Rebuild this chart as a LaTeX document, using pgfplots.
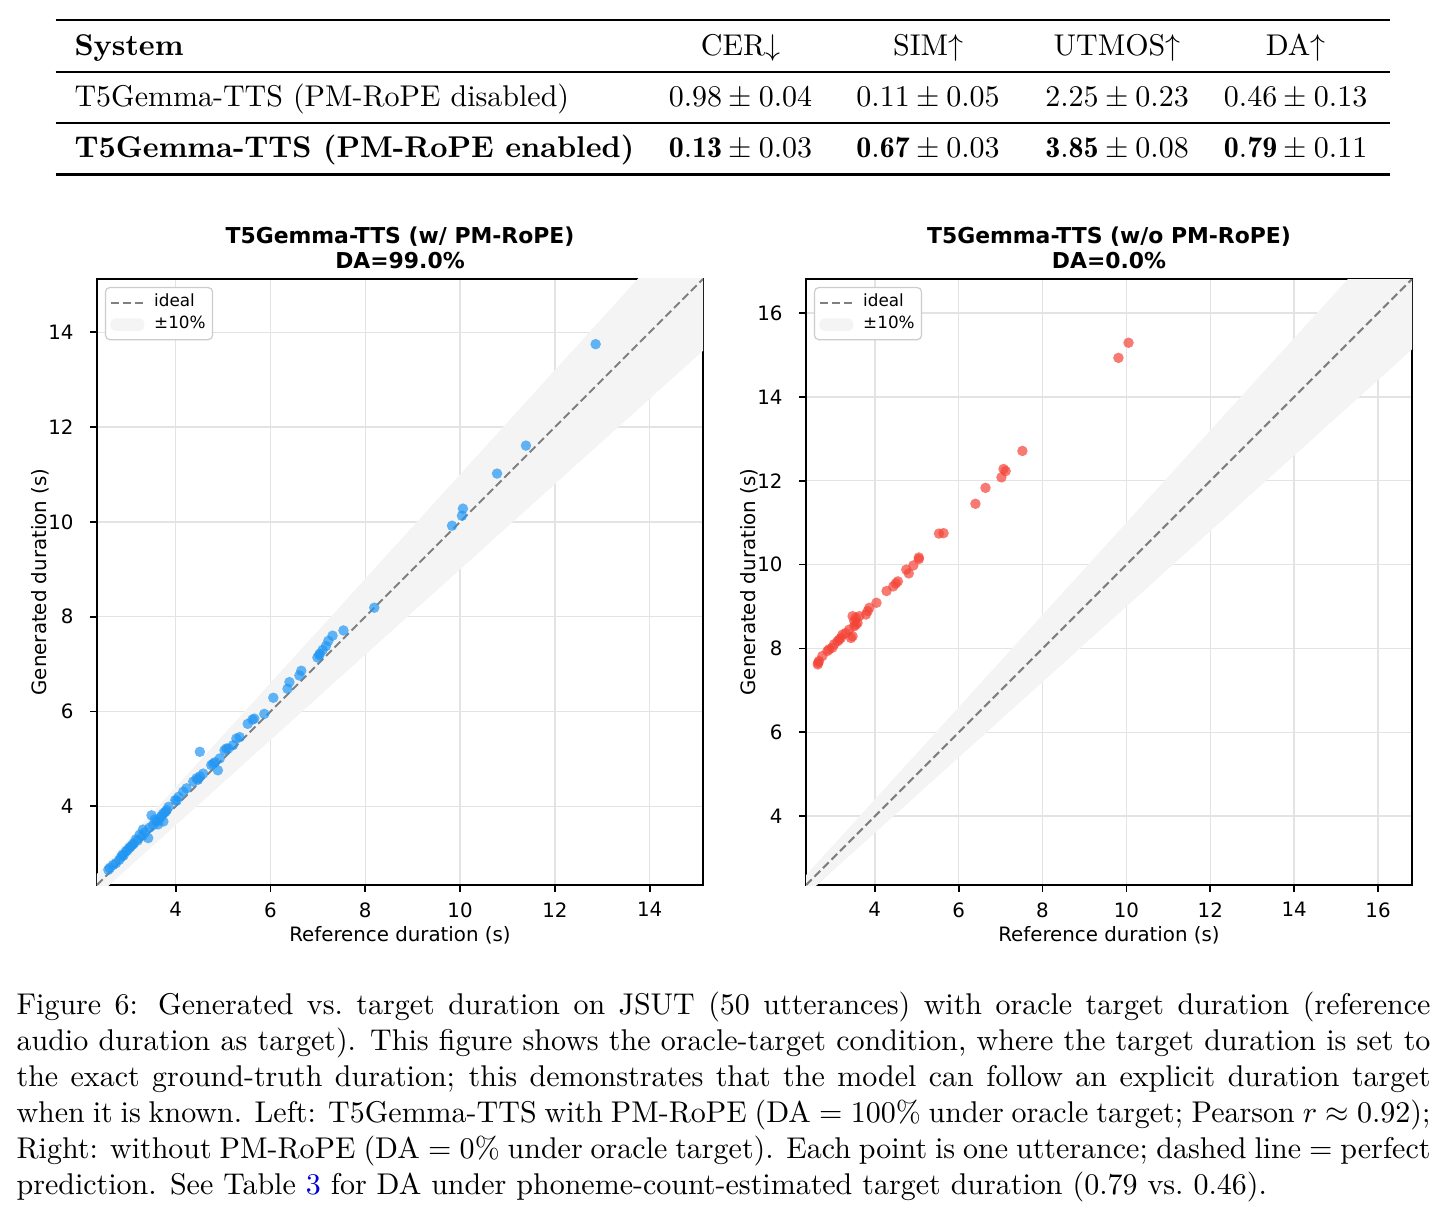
\documentclass[border=0pt]{standalone}
\usepackage{fontspec}
\usepackage{pgfplots}
\pgfplotsset{compat=1.18}
\usepackage{booktabs}
\usepackage{array}
\newfontfamily\djv{DejaVu Sans}
\definecolor{cblue}{HTML}{2196F3}
\definecolor{cred}{HTML}{F44336}
\definecolor{bandgray}{gray}{0.955}
\definecolor{linkblue}{rgb}{0,0,0.85}

\pgfplotstableread{
x y
12.86 13.75
11.39 11.61
10.78 11.02
10.06 10.28
10.04 10.13
9.83 9.92
8.19 8.19
7.54 7.71
7.31 7.60
7.22 7.49
7.17 7.38
7.10 7.30
7.04 7.22
6.99 7.14
7.03 7.19
6.65 6.86
6.61 6.76
6.40 6.62
6.36 6.48
6.06 6.29
5.87 5.95
5.66 5.85
5.62 5.83
5.52 5.74
5.35 5.46
5.28 5.43
5.21 5.29
5.07 5.22
5.03 5.18
5.11 5.22
4.93 5.01
4.79 4.90
4.75 4.87
4.89 4.76
4.83 4.93
4.51 5.15
4.58 4.69
4.51 4.63
4.44 4.59
4.37 4.52
4.47 4.56
4.23 4.38
4.16 4.31
4.06 4.20
3.99 4.13
4.02 4.12
3.85 3.99
3.81 3.92
3.74 3.85
3.67 3.75
3.60 3.68
3.74 3.68
3.49 3.81
3.56 3.72
3.63 3.62
3.70 3.80
3.78 3.88
3.52 3.60
3.45 3.55
3.42 3.33
3.31 3.51
3.35 3.45
3.24 3.40
3.30 3.38
3.16 3.30
3.20 3.28
3.09 3.19
3.12 3.22
3.02 3.12
3.05 3.15
2.95 3.05
2.98 3.07
2.88 2.98
2.90 2.96
2.81 2.87
2.85 2.93
2.74 2.80
2.68 2.76
2.61 2.70
2.58 2.66
}\withrope

\pgfplotstableread{
x y
10.05 15.29
9.81 14.93
7.52 12.71
7.07 12.28
7.12 12.23
7.02 12.08
6.64 11.83
6.40 11.45
5.53 10.74
5.64 10.75
5.05 10.17
5.05 10.13
4.92 9.98
4.75 9.88
4.81 9.79
4.55 9.60
4.50 9.55
4.44 9.48
4.28 9.37
4.04 9.09
3.87 8.97
3.83 8.89
3.79 8.81
3.63 8.77
3.55 8.73
3.51 8.65
3.59 8.61
3.55 8.57
3.47 8.77
3.51 8.53
3.47 8.29
3.43 8.25
3.39 8.45
3.31 8.37
3.23 8.33
3.19 8.25
3.15 8.21
3.11 8.17
3.03 8.10
2.99 8.02
2.91 7.98
2.87 7.94
2.75 7.82
2.67 7.70
2.64 7.62
2.65 7.66
}\withoutrope

\pgfplotsset{
  durax/.style={
    scale only axis, width=202pt, height=202pt,
    axis line style={line width=0.7pt},
    tick pos=left, tick align=outside, major tick length=2.3pt,
    tick style={line width=0.6pt, black},
    grid=major, major grid style={black!11, line width=0.5pt},
    /pgf/number format/assume math mode=true,
    ticklabel style={font=\djv\fontsize{6.6}{7}\selectfont},
    xticklabel style={yshift=0pt},
    yticklabel style={xshift=-2pt},
    label style={font=\djv\fontsize{6.6}{7.5}\selectfont},
    title style={font=\djv\bfseries\fontsize{7.3}{8.3}\selectfont, align=center, at={(0.5,1)}, anchor=south, yshift=-6pt},
    xlabel={Reference duration (s)},
    ylabel={Generated duration (s)},
    xlabel style={at={(axis description cs:0.5,-0.0825)}, anchor=center},
    ylabel style={at={(axis description cs:-0.094,0.5)}, anchor=center},
    legend style={at={(axis description cs:0.013,0.987)}, anchor=north west,
      draw=black!20, fill=white, rounded corners=1.5pt,
      font=\djv\fontsize{5.6}{6.2}\selectfont, inner xsep=1.5pt, inner ysep=1.4pt,
      nodes={inner sep=0.8pt}, row sep=0pt, column sep=2.5pt},
    legend cell align=left,
  },
  idealline/.style={black!50, line width=0.7pt, dash pattern=on 2.7pt off 1.3pt,
    legend image code/.code={\draw[##1] (0pt,0pt) -- (10.7pt,0pt);}},
  bandimage/.style={legend image code/.code={\fill[bandgray] (0pt,-1.9pt) rectangle (10.9pt,1.9pt);}},
}

\begin{document}
\begin{tikzpicture}[x=1pt,y=1pt]
\useasboundingbox (0,0) rectangle (482.33,-405.67);

\node[anchor=north west, inner sep=0pt] at (18.33,-6.17) {%
\begin{tabular}{@{\hspace{6.33pt}}w{l}{188pt}@{}w{c}{68pt}@{}w{c}{57pt}@{}w{c}{69pt}@{}w{c}{50pt}@{\hspace{6.33pt}}}
\toprule
\textbf{System} & CER$\downarrow$ & SIM$\uparrow$ & UTMOS$\uparrow$ & DA$\uparrow$\\
\midrule
T5Gemma-TTS (PM-RoPE disabled) & $0.98\pm0.04$ & $0.11\pm0.05$ & $2.25\pm0.23$ & $0.46\pm0.13$\\
\midrule
\textbf{T5Gemma-TTS (PM-RoPE enabled)} & $\mathbf{0.13}\pm0.03$ & $\mathbf{0.67}\pm0.03$ & $\mathbf{3.85}\pm0.08$ & $\mathbf{0.79}\pm0.11$\\
\bottomrule
\end{tabular}};

\begin{axis}[durax, at={(32.33pt,-295pt)}, anchor=south west,
  xmin=2.34, xmax=15.125, ymin=2.34, ymax=15.125,
  xtick={4,6,8,10,12,14}, ytick={4,6,8,10,12,14},
  title={T5Gemma-TTS (w/ PM-RoPE)\\DA=99.0\%}]
\addplot[fill=bandgray, draw=none, forget plot] coordinates {(2.34,2.106) (15.125,13.61) (15.125,16.64) (2.34,2.574)} -- cycle;
\addplot[idealline] coordinates {(2.34,2.34) (15.125,15.125)};
\addlegendentry{ideal}
\addlegendimage{bandimage}
\addlegendentry{±10\%}
\addplot[only marks, mark=*, color=cblue, mark size=1.75pt, mark options={draw opacity=0, fill=cblue, fill opacity=0.7}, forget plot] table[x=x,y=y] {\withrope};
\end{axis}

\begin{axis}[durax, at={(268.67pt,-295pt)}, anchor=south west,
  xmin=2.36, xmax=16.81, ymin=2.36, ymax=16.81,
  xtick={4,6,8,10,12,14,16}, ytick={4,6,8,10,12,14,16},
  title={T5Gemma-TTS (w/o PM-RoPE)\\DA=0.0\%}]
\addplot[fill=bandgray, draw=none, forget plot] coordinates {(2.36,2.124) (16.81,15.13) (16.81,18.49) (2.36,2.596)} -- cycle;
\addplot[idealline] coordinates {(2.36,2.36) (16.81,16.81)};
\addlegendentry{ideal}
\addlegendimage{bandimage}
\addlegendentry{±10\%}
\addplot[only marks, mark=*, color=cred, mark size=1.75pt, mark options={draw opacity=0, fill=cred, fill opacity=0.7}, forget plot] table[x=x,y=y] {\withoutrope};
\end{axis}

\node[anchor=north west, inner sep=0pt, text width=471.3pt, align=justify] at (5.33,-330.5) {%
Figure 6: Generated vs.\ target duration on JSUT (50 utterances) with oracle target duration (reference\linebreak audio duration as target). This figure shows the oracle-target condition, where the target duration is set to\linebreak the exact ground-truth duration; this demonstrates that the model can follow an explicit duration target\linebreak when it is known. Left: T5Gemma-TTS with PM-RoPE (DA${}=100\%$ under oracle target; Pearson $r\approx0.92$);\linebreak Right: without PM-RoPE (DA${}=0\%$ under oracle target). Each point is one utterance; dashed line $=$ perfect\linebreak prediction. See Table \textcolor{linkblue}{3} for DA under phoneme-count-estimated target duration (0.79 vs.\ 0.46).};
\end{tikzpicture}
\end{document}
